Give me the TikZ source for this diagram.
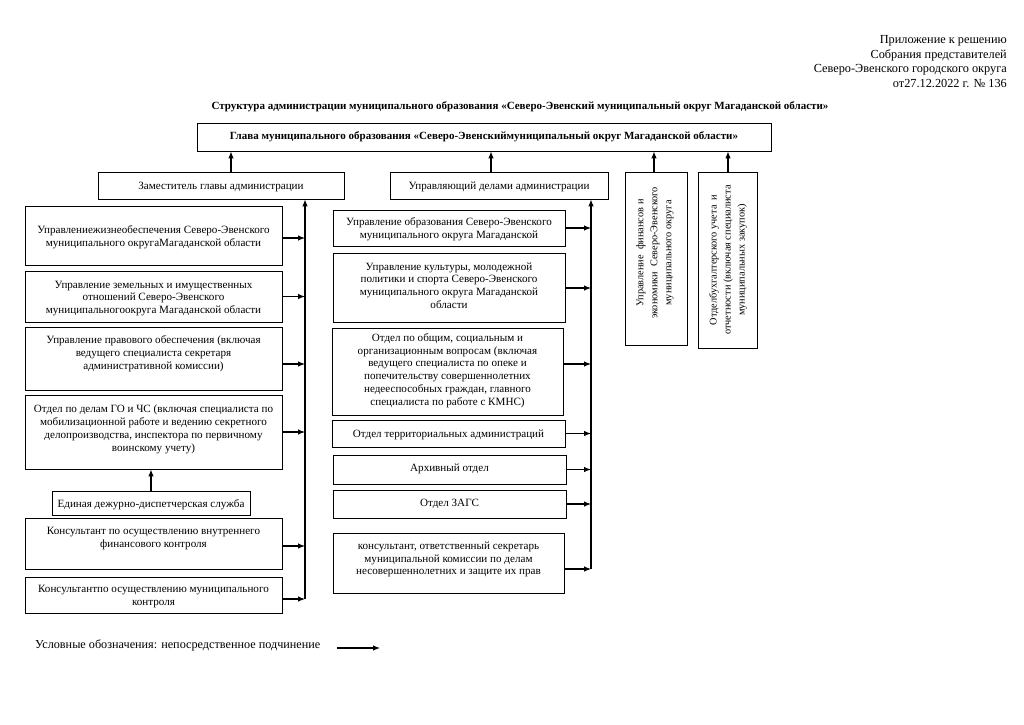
\documentclass[tikz,border=0pt]{standalone}
\usepackage{fontspec}
\setmainfont{Liberation Serif}
\usetikzlibrary{arrows.meta,fit}
\begin{document}
\begin{tikzpicture}[x=1pt,y=-1pt,
  bx/.style={draw, line width=0.8pt, inner sep=0pt},
  tx/.style={align=center, font=\fontsize{11.1}{12.8}\selectfont, inner sep=0pt, yshift=-1.5pt},
  rtx/.style={align=center, font=\fontsize{10.3}{14}\selectfont, inner sep=0pt, rotate=90},
  hd/.style={align=center, font=\bfseries\fontsize{11}{13}\selectfont, inner sep=0pt},
  ar/.style={line width=1.1pt, -{Latex[length=7pt,width=5.5pt]}},
  ln/.style={line width=1pt}]
\useasboundingbox[fill=white] (0,0) rectangle (1024,724);

% header texts
\node[align=right, anchor=north east, inner sep=0pt, font=\fontsize{12.3}{14.8}\selectfont] (app) at (1007,35)
  {Приложение к решению\\Собрания представителей\\Северо-Эвенского городского округа\\от27.12.2022 г. № 136};
\node[hd] (title) at (520,107) {Структура администрации муниципального образования «Северо-Эвенский муниципальный округ Магаданской области»};

% top level
\node[bx, fit={(197,123) (771,151)}] (H) {};
\node[hd] (Ht) at (484,137) {Глава муниципального образования «Северо-Эвенскиймуниципальный округ Магаданской области»};

\node[bx, fit={(98,172) (344,199)}] (Z) {};
\node[tx] (Zt) at (221,185) {Заместитель главы администрации};
\node[bx, fit={(390,172) (608,199)}] (U) {};
\node[tx] (Ut) at (499,185) {Управляющий делами администрации};
\node[bx, fit={(625,172) (687,345)}] (F) {};
\node[rtx] (Ft) at (655,253) {Управление \ финансов и\\экономики \ Северо-Эвенского\\муниципального округа};
\node[bx, fit={(698,172) (757,348)}] (B) {};
\node[rtx] (Bt) at (728,260) {Отделбухгалтерского учета \ и\\отчетности (включая специалиста\\муниципальных закупок)};

\coordinate (xa) at (231,0);
\coordinate (xb) at (491,0);
\coordinate (xc) at (654,0);
\coordinate (xd) at (728,0);
\draw[ar] (Z.north -| xa) -- (H.south -| xa);
\draw[ar] (U.north -| xb) -- (H.south -| xb);
\draw[ar] (F.north -| xc) -- (H.south -| xc);
\draw[ar] (B.north -| xd) -- (H.south -| xd);

% left column
\node[bx, fit={(25,206) (282,265)}] (L1) {};
\node[tx] (L1t) at (153.5,236) {Управлениежизнеобеспечения Северо-Эвенского\\муниципального округаМагаданской области};
\node[bx, fit={(25,271) (282,322)}] (L2) {};
\node[tx] (L2t) at (153.5,297) {Управление земельных и имущественных\\отношений Северо-Эвенского\\муниципальногоокруга Магаданской области};
\node[bx, fit={(25,327) (282,390)}] (L3) {};
\node[tx] (L3t) at (153.5,352) {Управление правового обеспечения (включая\\ведущего специалиста секретаря\\административной комиссии)};
\node[bx, fit={(25,395) (282,469)}] (L4) {};
\node[tx] (L4t) at (153.5,428) {Отдел по делам ГО и ЧС (включая специалиста по\\мобилизационной работе и ведению секретного\\делопроизводства, инспектора по первичному\\воинскому учету)};
\node[bx, fit={(52,491) (250,515)}] (L5) {};
\node[tx] (L5t) at (151,503) {Единая дежурно-диспетчерская служба};
\node[bx, fit={(25,518) (282,569)}] (L6) {};
\node[tx] (L6t) at (153.5,537) {Консультант по осуществлению внутреннего\\финансового контроля};
\node[bx, fit={(25,577) (282,613)}] (L7) {};
\node[tx] (L7t) at (153.5,595) {Консультантпо осуществлению муниципального\\контроля};

\coordinate (lb) at (305,0);
\draw[ar] ([yshift=-4pt]L7.east -| lb) -- (Z.south -| lb);
\draw[ar] ([yshift=-2.5pt]L1.east) -- ([yshift=-2.5pt]L1.east -| lb);
\draw[ar] (L2.east) -- (L2.east -| lb);
\draw[ar] ([yshift=-5.5pt]L3.east) -- ([yshift=-5.5pt]L3.east -| lb);
\draw[ar] (L4.east) -- (L4.east -| lb);
\draw[ar] ([yshift=-2.5pt]L6.east) -- ([yshift=-2.5pt]L6.east -| lb);
\draw[ar] ([yshift=-4pt]L7.east) -- ([yshift=-4pt]L7.east -| lb);
\draw[ar] (L5.north) -- (L4.south -| L5.north);

% middle column
\node[bx, fit={(333,210) (565,246)}] (M1) {};
\node[tx] (M1t) at (449,228) {Управление образования Северо-Эвенского\\муниципального округа Магаданской};
\node[bx, fit={(333,253) (565,322)}] (M2) {};
\node[tx] (M2t) at (449,284) {Управление культуры, молодежной\\политики и спорта Северо-Эвенского\\муниципального округа Магаданской\\области};
\node[bx, fit={(332,328) (563,415)}] (M3) {};
\node[tx] (M3t) at (447.5,369) {Отдел по общим, социальным и\\организационным вопросам (включая\\ведущего специалиста по опеке и\\попечительству совершеннолетних\\недееспособных граждан, главного\\специалиста по работе с КМНС)};
\node[bx, fit={(332,420) (565,447)}] (M4) {};
\node[tx] (M4t) at (448.5,433) {Отдел территориальных администраций};
\node[bx, fit={(333,455) (566,484)}] (M5) {};
\node[tx] (M5t) at (449.5,467) {Архивный отдел};
\node[bx, fit={(333,490) (566,518)}] (M6) {};
\node[tx] (M6t) at (449.5,502) {Отдел ЗАГС};
\node[bx, fit={(333,533) (564,593)}] (M7) {};
\node[tx] (M7t) at (448.5,558) {консультант, ответственный секретарь\\муниципальной комиссии по делам\\несовершеннолетних и защите их прав};

\coordinate (mb) at (591,0);
\draw[ar] ([yshift=-6pt]M7.east -| mb) -- (U.south -| mb);
\draw[ar] (M1.east) -- (M1.east -| mb);
\draw[ar] ([yshift=-0.5pt]M2.east) -- ([yshift=-0.5pt]M2.east -| mb);
\draw[ar] ([yshift=7.5pt]M3.east) -- ([yshift=7.5pt]M3.east -| mb);
\draw[ar] (M4.east) -- (M4.east -| mb);
\draw[ar] (M5.east) -- (M5.east -| mb);
\draw[ar] (M6.east) -- (M6.east -| mb);
\draw[ar] ([yshift=-6pt]M7.east) -- ([yshift=-6pt]M7.east -| mb);

% legend
\node[anchor=west, inner sep=0pt, font=\fontsize{12.2}{14}\selectfont] (leg) at (35,645) {Условные обозначения: непосредственное подчинение};
\coordinate (legA) at (337,648);
\coordinate (legB) at (380,648);
\draw[ar] (legA) -- (legB);
\end{tikzpicture}
\end{document}
